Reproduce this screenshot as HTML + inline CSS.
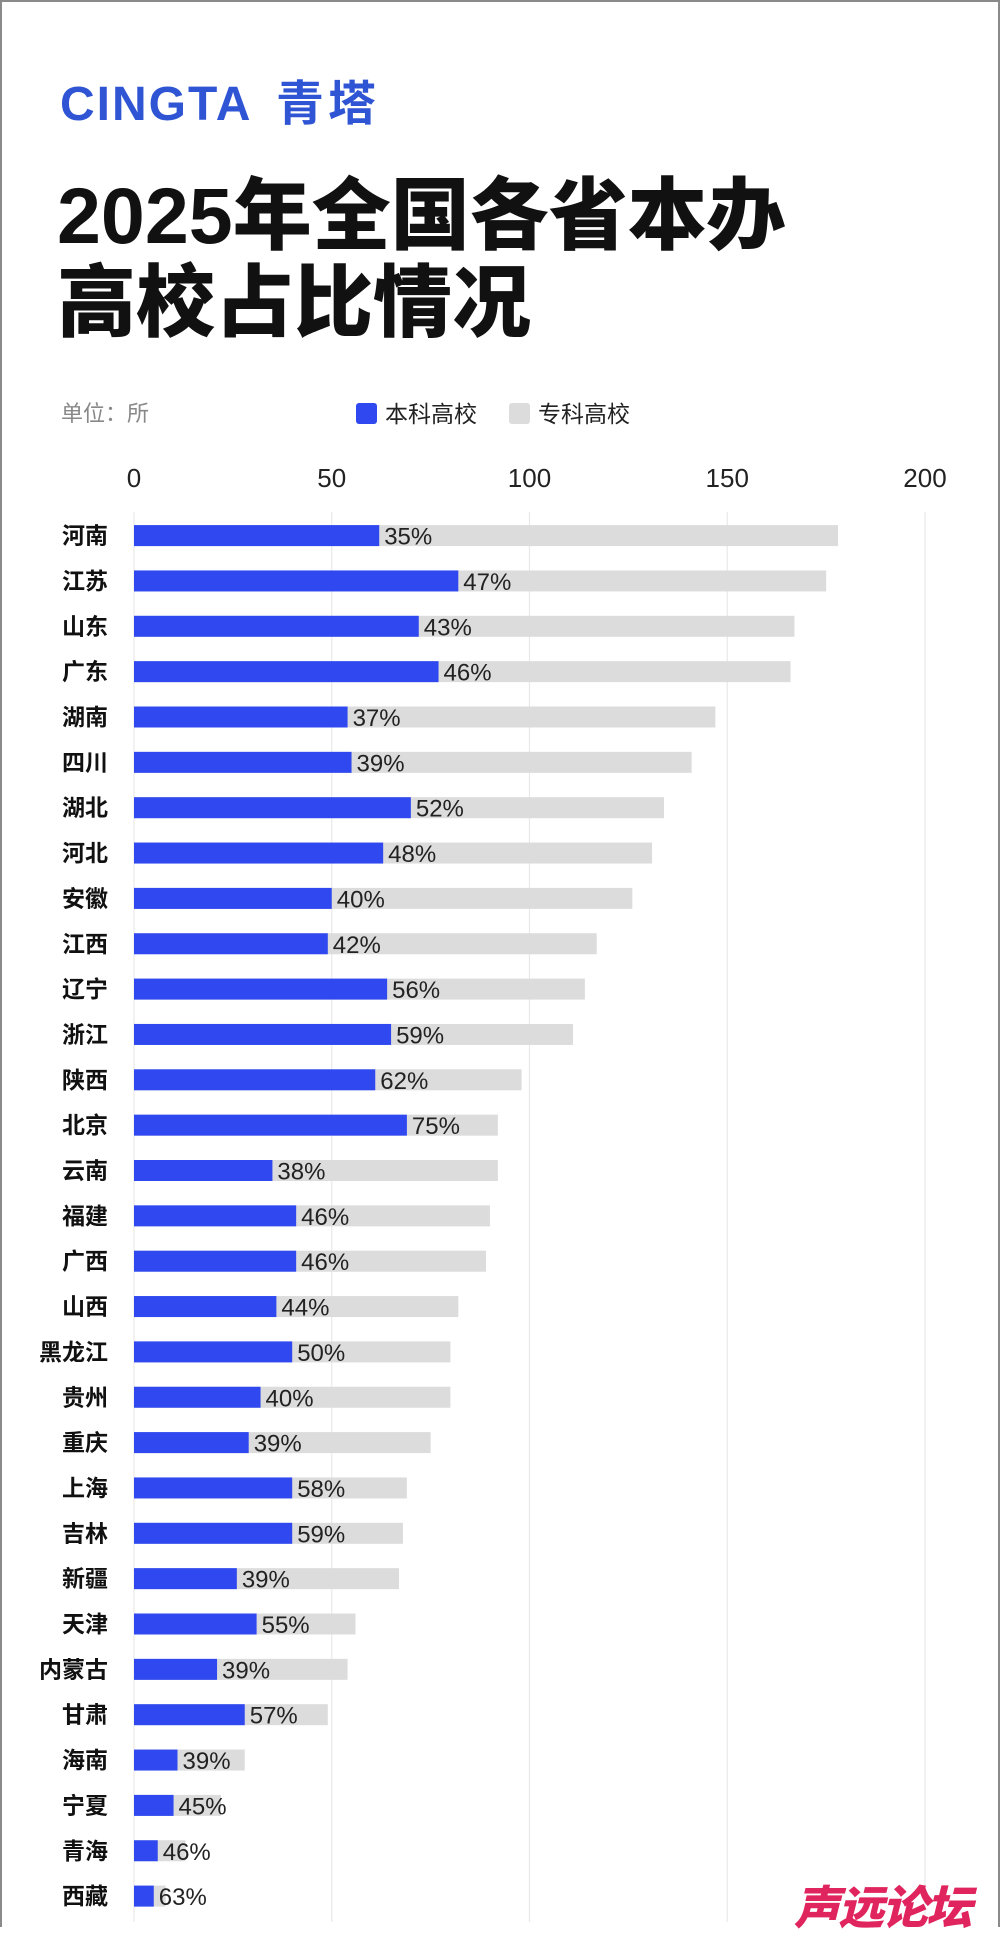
<!DOCTYPE html>
<html><head><meta charset="utf-8"><style>
html,body{margin:0;padding:0;background:#fff}
body{width:1000px;height:1927px;position:relative;overflow:hidden;font-family:"Liberation Sans","Noto Sans CJK SC",sans-serif}
.frame{position:absolute;left:0;top:0;width:996px;height:1925px;border:2px solid #8a8a8a;border-bottom:none}
</style></head><body>
<div class="frame"></div>
<div style="position:absolute;left:60px;top:64px;font-size:48px;color:#2f55d4;font-weight:bold;letter-spacing:2px">CINGTA <span style="font-family:'Noto Sans CJK SC',sans-serif;margin-left:10px;letter-spacing:4px">青塔</span></div>
<div style="position:absolute;left:57px;top:172px;font-size:79px;line-height:87px;font-weight:900;color:#111;font-family:'Liberation Sans','Noto Sans CJK SC',sans-serif">2025年全国各省本办<br>高校占比情况</div>
<svg id="chart" width="1000" height="1927" style="position:absolute;left:0;top:0"></svg>
<div style="position:absolute;left:794px;top:1872px;font-size:46px;font-weight:900;font-style:italic;color:#e0245e;font-family:'Noto Sans CJK SC',sans-serif;letter-spacing:-2px">声远论坛</div>
<script>
const provinces=["河南","江苏","山东","广东","湖南","四川","湖北","河北","安徽","江西","辽宁","浙江","陕西","北京","云南","福建","广西","山西","黑龙江","贵州","重庆","上海","吉林","新疆","天津","内蒙古","甘肃","海南","宁夏","青海","西藏"];
const totalValues=[178,175,167,166,147,141,134,131,126,117,114,111,98,92,92,90,89,82,80,80,75,69,68,67,56,54,49,28,22,13,8];
const undergradValues=[62,82,72,77,54,55,70,63,50,49,64,65,61,69,35,41,41,36,40,32,29,40,40,26,31,21,28,11,10,6,5];
const pctLabels=["35%","47%","43%","46%","37%","39%","52%","48%","40%","42%","56%","59%","62%","75%","38%","46%","46%","44%","50%","40%","39%","58%","59%","39%","55%","39%","57%","39%","45%","46%","63%"];
const ticks=[0,50,100,150,200];
const svg=document.getElementById('chart');
const NS='http://www.w3.org/2000/svg';
const x0=134,x1=925;
const xs=v=>x0+(x1-x0)*v/200;
const ys=i=>535.6+i*45.35;
const bh=21;
function mk(t,a){const e=document.createElementNS(NS,t);for(const k in a)e.setAttribute(k,a[k]);svg.appendChild(e);return e;}
let u=mk('text',{x:61,y:421,'font-size':22,fill:'#888','font-family':'Noto Sans CJK SC,sans-serif'});u.textContent='单位：所';


let l1=mk('rect',{x:356,y:403,width:21,height:21,rx:3,fill:'#2f48f0'});


let t1=mk('text',{x:385,y:422,'font-size':23,fill:'#222','font-family':'Noto Sans CJK SC,sans-serif'});t1.textContent='本科高校';


let l2=mk('rect',{x:509,y:403,width:21,height:21,rx:3,fill:'#dcdcdc'});


let t2=mk('text',{x:538,y:422,'font-size':23,fill:'#222','font-family':'Noto Sans CJK SC,sans-serif'});t2.textContent='专科高校';


ticks.forEach(t=>{
  const g=mk('line',{x1:xs(t),x2:xs(t),y1:512,y2:1922,stroke:'#e8e8e8','stroke-width':1.2});
  
  
  const tx=mk('text',{x:xs(t),y:487,'font-size':26,fill:'#222','text-anchor':'middle'});tx.textContent=t;
  
  
});
provinces.forEach((p,i)=>{
  const cy=ys(i);
  const lab=mk('text',{x:108,y:cy+8,'font-size':23,fill:'#111','text-anchor':'end','font-weight':'bold','font-family':'Noto Sans CJK SC,sans-serif'});lab.textContent=p;
  
  
  const g=mk('rect',{x:x0,y:cy-bh/2,width:xs(totalValues[i])-x0,height:bh,fill:'#dcdcdc'});
  
  
  const b=mk('rect',{x:x0,y:cy-bh/2,width:xs(undergradValues[i])-x0,height:bh,fill:'#2f48f0'});
  
  
  const pt=mk('text',{x:xs(undergradValues[i])+5,y:cy+9,'font-size':24,fill:'#222'});pt.textContent=pctLabels[i];
  
  
});
</script>
</body></html>
